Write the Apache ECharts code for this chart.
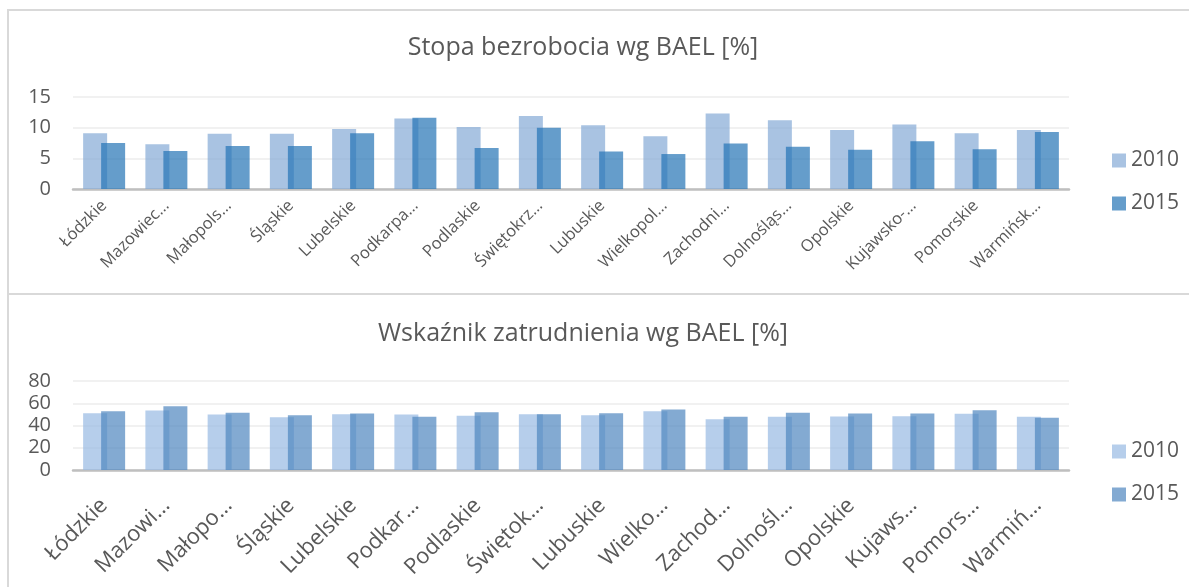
<!DOCTYPE html>
<html>
<head>
<meta charset="utf-8">
<script src="https://cdn.jsdelivr.net/npm/echarts@6/dist/echarts.min.js"></script>
<style>
  html, body { margin: 0; padding: 0; background: #fff; overflow: hidden; }
  .panel {
    position: absolute;
    left: 7px;
    width: 1200px;
    border-top: 2px solid #d9d9d9;
    border-left: 2px solid #d9d9d9;
  }
  .echarts { position: absolute; left: 0; width: 1189px; }
</style>
</head>
<body>
<div class="panel" style="top:9px;height:400px"></div>
<div class="panel" style="top:293px;height:400px"></div>
<div id="unemployment" class="echarts" style="top:0;height:294px"></div>
<div id="employment" class="echarts" style="top:294px;height:293px"></div>
<script>
// voivodeships, same order in both charts
const regions = ['Łódzkie', 'Mazowieckie', 'Małopolskie', 'Śląskie', 'Lubelskie', 'Podkarpackie',
  'Podlaskie', 'Świętokrzyskie', 'Lubuskie', 'Wielkopolskie', 'Zachodniopomorskie',
  'Dolnośląskie', 'Opolskie', 'Kujawsko-pomorskie', 'Pomorskie', 'Warmińsko-mazurskie']

// tick labels as they are cut in each chart
const topLabels = ['Łódzkie', 'Mazowiec…', 'Małopols…', 'Śląskie', 'Lubelskie', 'Podkarpa…',
  'Podlaskie', 'Świętokrz…', 'Lubuskie', 'Wielkopol…', 'Zachodni…', 'Dolnośląs…',
  'Opolskie', 'Kujawsko-…', 'Pomorskie', 'Warmińsk…']
const bottomLabels = ['Łódzkie', 'Mazowi…', 'Małopo…', 'Śląskie', 'Lubelskie', 'Podkar…',
  'Podlaskie', 'Świętok…', 'Lubuskie', 'Wielko…', 'Zachod…', 'Dolnośl…',
  'Opolskie', 'Kujaws…', 'Pomors…', 'Warmiń…']

// Stopa bezrobocia [%]
const unemp2010 = [9.1, 7.3, 9.0, 9.0, 9.8, 11.5, 10.1, 11.9, 10.4, 8.6, 12.3, 11.2, 9.6, 10.5, 9.1, 9.6]
const unemp2015 = [7.5, 6.2, 7.0, 7.0, 9.1, 11.6, 6.7, 10.0, 6.1, 5.7, 7.4, 6.9, 6.4, 7.8, 6.5, 9.3]

// Wskaźnik zatrudnienia [%]
const emp2010 = [51.1, 53.5, 49.9, 47.5, 50.2, 50.0, 48.7, 50.2, 49.3, 52.9, 45.7, 47.8, 48.1, 48.4, 50.5, 47.8]
const emp2015 = [52.9, 57.3, 51.4, 49.3, 50.8, 47.8, 52.0, 50.2, 51.1, 54.4, 47.8, 51.4, 50.8, 50.8, 53.8, 46.9]

const FONT = 'Open Sans'
const TEXT = '#595959'

function buildOption(cfg) {
  return {
    animation: false,
    textStyle: { fontFamily: FONT },
    graphic: [{
      type: 'text',
      x: 583,
      y: cfg.titleY,
      style: {
        text: cfg.title,
        align: 'center',
        verticalAlign: 'middle',
        fill: TEXT,
        font: '25px "' + FONT + '"'
      }
    }],
    legend: {
      orient: 'vertical',
      left: 1107,
      top: cfg.legendTop,
      itemWidth: 14,
      itemHeight: 14,
      itemGap: 22,
      icon: 'rect',
      textStyle: { color: TEXT, fontSize: 21, fontFamily: FONT }
    },
    grid: {
      left: 73,
      right: 120,
      top: cfg.gridTop,
      height: cfg.gridHeight,
      containLabel: false
    },
    xAxis: {
      type: 'category',
      data: regions,
      axisTick: { show: false },
      axisLine: { lineStyle: { color: '#bfbfbf', width: 2.5 } },
      axisLabel: {
        interval: 0,
        rotate: 45,
        margin: cfg.labelMargin,
        color: TEXT,
        fontSize: cfg.labelSize,
        fontFamily: FONT,
        formatter: (v, i) => cfg.labels[i]
      }
    },
    yAxis: {
      type: 'value',
      min: 0,
      max: cfg.max,
      interval: cfg.interval,
      axisLine: { show: false },
      axisTick: { show: false },
      splitLine: { lineStyle: { color: '#ececec', width: 1.5 } },
      axisLabel: { color: TEXT, fontSize: 20, fontFamily: FONT, margin: 22 }
    },
    series: [
      {
        name: '2010',
        type: 'bar',
        data: cfg.a,
        barWidth: 24,
        barGap: '-25%',
        itemStyle: { color: cfg.colorA }
      },
      {
        name: '2015',
        type: 'bar',
        data: cfg.b,
        barWidth: 24,
        barGap: '-25%',
        itemStyle: { color: cfg.colorB }
      }
    ]
  }
}

const topChart = echarts.init(document.getElementById('unemployment'))
topChart.setOption(buildOption({
  title: 'Stopa bezrobocia wg BAEL [%]',
  titleY: 48,
  legendTop: 145,
  gridTop: 97,
  gridHeight: 92,
  max: 15,
  interval: 5,
  labels: topLabels,
  labelSize: 16.5,
  labelMargin: 14,
  a: unemp2010,
  b: unemp2015,
  colorA: 'rgba(132, 169, 214, 0.7)',
  colorB: 'rgba(35, 115, 181, 0.7)'
}))

const bottomChart = echarts.init(document.getElementById('employment'))
bottomChart.setOption(buildOption({
  title: 'Wskaźnik zatrudnienia wg BAEL [%]',
  titleY: 40,
  legendTop: 142,
  gridTop: 87,
  gridHeight: 89,
  max: 80,
  interval: 20,
  labels: bottomLabels,
  labelSize: 22,
  labelMargin: 32,
  a: emp2010,
  b: emp2015,
  colorA: 'rgba(151, 185, 226, 0.7)',
  colorB: 'rgba(79, 134, 191, 0.7)'
}))
</script>
</body>
</html>
